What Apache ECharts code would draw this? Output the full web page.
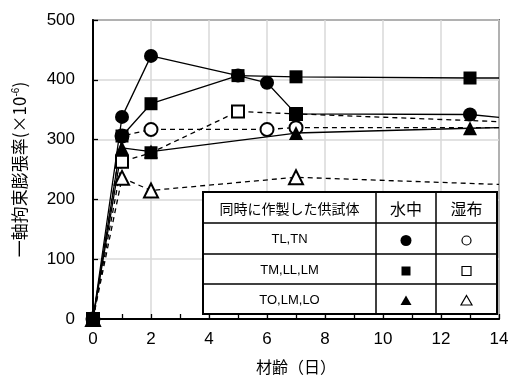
<!DOCTYPE html>
<html><head><meta charset="utf-8">
<script src="https://cdn.jsdelivr.net/npm/echarts@6/dist/echarts.min.js"></script>
<style>html,body{margin:0;padding:0;background:#fff}#c{width:518px;height:376px}</style>
</head><body><div id="c"></div>
<script>
// ---- data ----
const xTicks = [0, 2, 4, 6, 8, 10, 12, 14];
const yTicks = [0, 100, 200, 300, 400, 500];

const tlWaterDays = [0, 1, 2, 5, 6, 7, 13, 14];
const tlWaterVals = [0, 338, 440, 407, 395, 343, 342, 337];
const tmWaterDays = [0, 1, 2, 5, 7, 13, 14];
const tmWaterVals = [0, 306, 360, 407, 405, 403, 403];
const toWaterDays = [0, 1, 2, 7, 13, 14];
const toWaterVals = [0, 286, 280, 311, 319, 320];

const tlWetDays = [0, 1, 2, 6, 7, 14];
const tlWetVals = [0, 306, 317, 317, 320, 320];
const tmWetDays = [0, 1, 2, 5, 7, 14];
const tmWetVals = [0, 263, 278, 347, 343, 330];
const toWetDays = [0, 1, 2, 7, 14];
const toWetVals = [0, 236, 215, 237, 225];

const legendRows = ['TL,TN', 'TM,LL,LM', 'TO,LM,LO'];
const legendHead = ['同時に作製した供試体', '水中', '湿布'];

// ---- chart ----
const JP = '"Noto Sans CJK JP", sans-serif';
const LAT = '"Liberation Sans", Arial, sans-serif';

function pts(days, vals, overrides) {
  return days.map((d, i) => {
    const item = { value: [d, vals[i]] };
    if (d === 14) { item.symbol = 'none'; }
    if (overrides && overrides[i]) Object.assign(item, overrides[i]);
    return item;
  });
}
function mkSeries(name, days, vals, symbol, filled, dashed, size, overrides) {
  return {
    name, type: 'line', clip: true,
    data: pts(days, vals, overrides),
    symbol, symbolSize: size, showAllSymbol: true,
    lineStyle: { color: '#000', width: 1.3, type: dashed ? [5, 4] : 'solid' },
    itemStyle: filled ? { color: '#000', borderColor: '#000', borderWidth: 0 }
                      : { color: '#fff', borderColor: '#000', borderWidth: 2 },
    emphasis: { disabled: true }, animation: false
  };
}

const series = [
  mkSeries('tlWet', tlWetDays, tlWetVals, 'circle', false, true, 13),
  mkSeries('tmWet', tmWetDays, tmWetVals, 'rect', false, true, 12,
    { 2: { itemStyle: { color: '#000', borderWidth: 0 }, symbolSize: 13 } }),
  mkSeries('toWet', toWetDays, toWetVals, 'triangle', false, true, 14),
  mkSeries('toWater', toWaterDays, toWaterVals, 'triangle', true, false, 14),
  mkSeries('tlWater', tlWaterDays, tlWaterVals, 'circle', true, false, 14,
    { 5: { symbol: 'rect', symbolSize: 13 } }),
  mkSeries('tmWater', tmWaterDays, tmWaterVals, 'rect', true, false, 13)
];

// legend table graphics
const tx0 = 203, tx1 = 376, tx2 = 436, tx3 = 497;
const ty = [192, 223, 254, 284, 314];
const g = [];
g.push({ type: 'rect', shape: { x: tx0, y: ty[0], width: tx3 - tx0, height: ty[4] - ty[0] },
  style: { fill: '#fff', stroke: '#000', lineWidth: 2 }, z: 100 });
[tx1, tx2].forEach(x => g.push({ type: 'line', shape: { x1: x, y1: ty[0], x2: x, y2: ty[4] },
  style: { stroke: '#000', lineWidth: 1.5 }, z: 101 }));
[ty[1], ty[2], ty[3]].forEach(y => g.push({ type: 'line', shape: { x1: tx0, y1: y, x2: tx3, y2: y },
  style: { stroke: '#000', lineWidth: 1.5 }, z: 101 }));
const colC = [(tx0 + tx1) / 2, (tx1 + tx2) / 2, (tx2 + tx3) / 2];
legendHead.forEach((t, i) => g.push({ type: 'text', z: 102,
  style: { text: t, x: colC[i], y: (ty[0] + ty[1]) / 2 + 1, align: 'center', verticalAlign: 'middle',
    font: (i === 0 ? '14px ' : '16px ') + JP, fill: '#000' } }));
legendRows.forEach((t, i) => {
  const cy = (ty[i + 1] + ty[i + 2]) / 2 + 1;
  g.push({ type: 'text', z: 102, style: { text: t, x: colC[0], y: cy, align: 'center', verticalAlign: 'middle',
    font: '13px ' + LAT, fill: '#000' } });
  const fx = colC[1], ox = colC[2], sy = cy + 1;
  if (i === 0) {
    g.push({ type: 'circle', z: 102, shape: { cx: fx, cy: sy, r: 5.5 }, style: { fill: '#000' } });
    g.push({ type: 'circle', z: 102, shape: { cx: ox, cy: sy, r: 4.5 }, style: { fill: '#fff', stroke: '#000', lineWidth: 1.2 } });
  } else if (i === 1) {
    g.push({ type: 'rect', z: 102, shape: { x: fx - 4.5, y: sy - 4.5, width: 9, height: 9 }, style: { fill: '#000' } });
    g.push({ type: 'rect', z: 102, shape: { x: ox - 4.5, y: sy - 4.5, width: 9, height: 9 }, style: { fill: '#fff', stroke: '#000', lineWidth: 1.2 } });
  } else {
    g.push({ type: 'polygon', z: 102, shape: { points: [[fx, sy - 5.5], [fx + 5.5, sy + 4], [fx - 5.5, sy + 4]] }, style: { fill: '#000' } });
    g.push({ type: 'polygon', z: 102, shape: { points: [[ox, sy - 5.5], [ox + 5.5, sy + 4], [ox - 5.5, sy + 4]] }, style: { fill: '#fff', stroke: '#000', lineWidth: 1.2 } });
  }
});

const chart = echarts.init(document.getElementById('c'), null, { renderer: 'canvas' });
chart.setOption({
  animation: false,
  backgroundColor: '#fff',
  grid: { left: 93, right: 19, top: 20, bottom: 57, containLabel: false, outerBoundsMode: 'none',
    show: true, borderColor: '#000', borderWidth: 1.5, backgroundColor: 'transparent' },
  xAxis: {
    type: 'value', min: xTicks[0], max: xTicks[xTicks.length - 1], interval: 2,
    name: '材齢（日）', nameLocation: 'middle', nameGap: 40,
    nameTextStyle: { fontFamily: JP, fontSize: 16, color: '#000' },
    axisLine: { show: true, onZero: false, lineStyle: { color: '#000', width: 2 } },
    axisTick: { show: true, inside: true, length: 5, lineStyle: { color: '#000', width: 1.3 } },
    minorTick: { show: true, splitNumber: 2, length: 5, lineStyle: { color: '#000', width: 1.3 } },
    axisLabel: { fontFamily: LAT, fontSize: 17, color: '#000', margin: 12,
      formatter: v => xTicks.includes(v) ? String(v) : '' },
    splitLine: { show: true, lineStyle: { color: '#d9d9d9', width: 1.5 } }
  },
  yAxis: {
    type: 'value', min: yTicks[0], max: yTicks[yTicks.length - 1], interval: 100,
    name: '{m|一軸拘束膨張率(×10}{s|-6}{m|)}', nameLocation: 'middle', nameGap: 64, nameRotate: 90,
    nameTextStyle: { fontFamily: JP, fontSize: 17, color: '#000',
      rich: { m: { fontFamily: JP, fontSize: 17, color: '#000' },
              s: { fontFamily: LAT, fontSize: 10, verticalAlign: 'top', padding: [0, 0, 8, 0], color: '#000' } } },
    axisLine: { show: true, onZero: false, lineStyle: { color: '#000', width: 2 } },
    axisTick: { show: true, inside: true, length: 5, lineStyle: { color: '#000', width: 1.3 } },
    axisLabel: { fontFamily: LAT, fontSize: 17, color: '#000', margin: 18,
      formatter: v => yTicks.includes(v) ? String(v) : '' },
    splitLine: { show: true, lineStyle: { color: '#d9d9d9', width: 1.5 } }
  },
  series,
  graphic: g
});
</script></body></html>
